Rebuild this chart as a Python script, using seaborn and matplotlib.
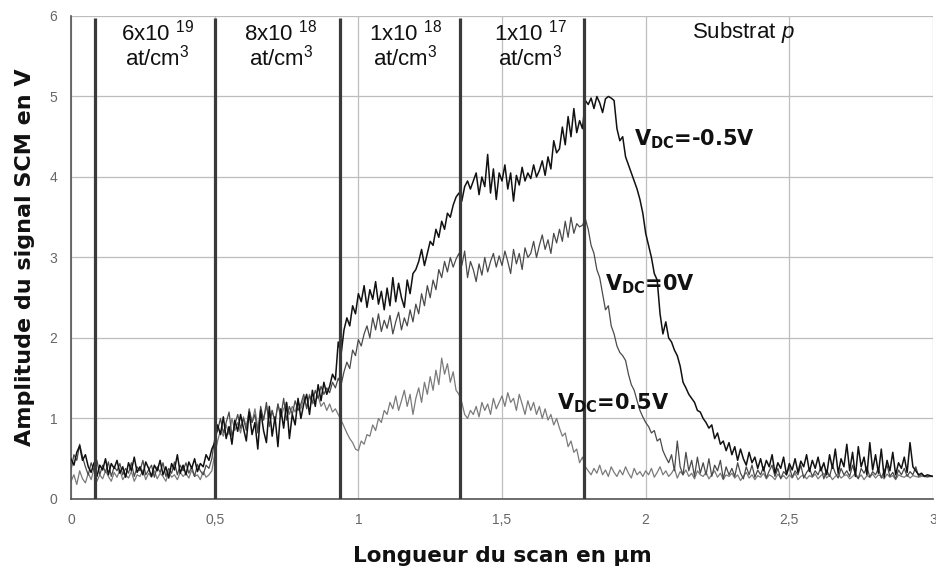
import numpy as np
import pandas as pd
import matplotlib
matplotlib.use("Agg")
import matplotlib.pyplot as plt
from matplotlib.ticker import FuncFormatter
import seaborn as sns

# ---------------- data ----------------
scan_step = 0.01
n_points = 301
x_um = np.round(np.arange(n_points) * scan_step, 2)

v_neg05 = [
    0.50, 0.42, 0.58, 0.66, 0.48, 0.55, 0.40, 0.33, 0.45, 0.28,
    0.42, 0.36, 0.50, 0.30, 0.44, 0.38, 0.48, 0.32, 0.40, 0.27,
    0.45, 0.35, 0.52, 0.33, 0.40, 0.30, 0.46, 0.38, 0.28, 0.42,
    0.35, 0.48, 0.30, 0.40, 0.26, 0.44, 0.36, 0.55, 0.32, 0.42,
    0.30, 0.46, 0.38, 0.50, 0.34, 0.44, 0.40, 0.55, 0.48, 0.62,
    0.70, 0.92, 0.80, 1.02, 0.75, 0.90, 0.68, 0.98, 0.84, 1.05,
    0.88, 0.72, 1.08, 0.80, 0.95, 0.62, 1.10, 0.85, 0.70, 1.15,
    0.78, 1.02, 0.65, 1.12, 0.88, 1.20, 0.75, 1.05, 0.92, 1.25,
    1.00, 1.18, 1.30, 1.05, 1.35, 1.15, 1.42, 1.22, 1.45, 1.30,
    1.40, 1.55, 1.48, 1.95, 1.80, 2.10, 2.25, 2.15, 2.40, 2.30,
    2.55, 2.45, 2.65, 2.38, 2.60, 2.48, 2.70, 2.42, 2.58, 2.35,
    2.62, 2.40, 2.75, 2.45, 2.68, 2.50, 2.38, 2.72, 2.55, 2.80,
    2.85, 2.95, 3.10, 2.90, 3.05, 3.20, 3.15, 3.35, 3.25, 3.45,
    3.35, 3.55, 3.50, 3.65, 3.75, 3.80, 3.70, 3.88, 3.95, 3.85,
    3.95, 4.05, 3.78, 4.00, 3.88, 4.28, 3.80, 4.10, 3.72, 4.05,
    3.95, 4.15, 3.85, 4.05, 3.70, 4.02, 3.90, 4.12, 3.95, 4.05,
    3.98, 4.15, 4.00, 4.08, 4.20, 4.02, 4.25, 4.10, 4.45, 4.30,
    4.35, 4.62, 4.40, 4.75, 4.50, 4.85, 4.55, 4.70, 4.60, 4.95,
    4.90, 4.98, 4.85, 5.00, 4.92, 4.80, 4.97, 5.00, 4.98, 4.95,
    4.60, 4.45, 4.50, 4.25, 4.15, 4.05, 3.95, 3.85, 3.72, 3.55,
    3.30, 3.15, 3.00, 2.80, 2.72, 2.30, 2.05, 2.20, 2.00, 1.95,
    1.85, 1.78, 1.65, 1.45, 1.38, 1.30, 1.25, 1.20, 1.10, 1.08,
    1.00, 0.95, 0.88, 0.92, 0.75, 0.82, 0.68, 0.72, 0.60, 0.70,
    0.55, 0.65, 0.48, 0.62, 0.50, 0.42, 0.58, 0.45, 0.52, 0.38,
    0.50, 0.35, 0.48, 0.40, 0.55, 0.32, 0.45, 0.38, 0.52, 0.30,
    0.44, 0.36, 0.50, 0.33, 0.47, 0.40, 0.55, 0.34, 0.48, 0.38,
    0.52, 0.35, 0.45, 0.30, 0.55, 0.38, 0.62, 0.32, 0.50, 0.40,
    0.68, 0.35, 0.58, 0.28, 0.65, 0.40, 0.52, 0.30, 0.70, 0.36,
    0.55, 0.32, 0.62, 0.27, 0.48, 0.35, 0.58, 0.30, 0.45, 0.38,
    0.52, 0.33, 0.70, 0.40, 0.35, 0.30, 0.32, 0.28, 0.30, 0.29,
    0.28,
]
v_0 = [
    0.36, 0.55, 0.48, 0.68, 0.52, 0.40, 0.30, 0.45, 0.35, 0.48,
    0.30, 0.42, 0.33, 0.46, 0.28, 0.40, 0.35, 0.44, 0.30, 0.38,
    0.32, 0.45, 0.28, 0.40, 0.35, 0.48, 0.30, 0.36, 0.42, 0.27,
    0.40, 0.33, 0.45, 0.28, 0.38, 0.32, 0.46, 0.30, 0.42, 0.35,
    0.45, 0.32, 0.40, 0.28, 0.43, 0.35, 0.30, 0.42, 0.38, 0.50,
    0.75, 0.85, 1.00, 0.82, 0.95, 1.08, 0.78, 0.92, 1.05, 0.88,
    1.00, 0.85, 1.12, 0.95, 1.05, 0.82, 1.15, 0.98, 1.20, 0.90,
    1.10, 0.95, 1.18, 1.02, 1.25, 0.98, 1.15, 1.05, 1.22, 1.10,
    1.18, 1.30, 1.12, 1.28, 1.20, 1.35, 1.25, 1.40, 1.30, 1.38,
    1.32, 1.45, 1.38, 1.50, 1.42, 1.58, 1.70, 1.62, 1.85, 1.78,
    1.98, 1.90, 2.05, 2.15, 2.00, 2.25, 2.10, 2.30, 2.08, 2.22,
    2.12, 2.28, 2.05, 2.20, 2.32, 2.10, 2.25, 2.15, 2.35, 2.20,
    2.42, 2.30, 2.55, 2.40, 2.65, 2.50, 2.72, 2.60, 2.85, 2.75,
    2.95, 2.82, 3.00, 2.88, 2.98, 3.05, 2.90, 3.08, 2.75, 2.95,
    2.85, 2.70, 2.92, 2.78, 3.00, 2.82, 2.95, 3.05, 2.88, 3.02,
    2.90, 3.08, 2.95, 2.80, 3.10, 2.92, 3.05, 2.85, 3.12, 3.00,
    3.05, 3.20, 3.00, 3.15, 3.28, 3.10, 3.22, 3.05, 3.30, 3.18,
    3.35, 3.20, 3.45, 3.25, 3.50, 3.30, 3.42, 3.38, 3.40, 3.48,
    3.35, 3.15, 3.05, 2.85, 2.75, 2.55, 2.35, 2.40, 2.15, 2.05,
    1.90, 1.82, 1.78, 1.72, 1.55, 1.42, 1.35, 1.22, 1.10, 1.02,
    0.95, 0.90, 0.82, 0.85, 0.72, 0.75, 0.60, 0.52, 0.45, 0.55,
    0.35, 0.72, 0.40, 0.30, 0.58, 0.35, 0.48, 0.28, 0.52, 0.32,
    0.45, 0.30, 0.50, 0.28, 0.42, 0.35, 0.48, 0.25, 0.40, 0.30,
    0.38, 0.28, 0.45, 0.32, 0.25, 0.40, 0.30, 0.42, 0.27, 0.36,
    0.30, 0.40, 0.26, 0.35, 0.42, 0.28, 0.38, 0.25, 0.34, 0.30,
    0.40, 0.27, 0.35, 0.30, 0.42, 0.26, 0.33, 0.38, 0.28, 0.35,
    0.30, 0.40, 0.25, 0.36, 0.28, 0.42, 0.32, 0.26, 0.38, 0.30,
    0.35, 0.28, 0.42, 0.30, 0.25, 0.38, 0.32, 0.40, 0.27, 0.34,
    0.30, 0.38, 0.26, 0.35, 0.42, 0.28, 0.33, 0.25, 0.36, 0.30,
    0.38, 0.28, 0.34, 0.30, 0.40, 0.28, 0.30, 0.29, 0.28, 0.28,
    0.28,
]
v_pos05 = [
    0.22, 0.30, 0.18, 0.35, 0.25, 0.20, 0.32, 0.24, 0.38, 0.22,
    0.30, 0.25, 0.35, 0.28, 0.22, 0.33, 0.27, 0.36, 0.24, 0.30,
    0.26, 0.34, 0.22, 0.30, 0.28, 0.36, 0.24, 0.32, 0.27, 0.35,
    0.25, 0.32, 0.28, 0.22, 0.34, 0.27, 0.30, 0.24, 0.33, 0.28,
    0.32, 0.26, 0.36, 0.28, 0.30, 0.24, 0.34, 0.27, 0.30, 0.35,
    0.55, 0.72, 0.85, 0.78, 0.92, 0.80, 1.00, 0.85, 0.95, 0.82,
    1.02, 0.90, 1.08, 0.95, 1.12, 0.88, 1.05, 0.98, 1.15, 1.00,
    1.10, 0.95, 1.18, 1.02, 1.12, 1.20, 1.05, 1.15, 1.08, 1.22,
    1.12, 1.25, 1.15, 1.30, 1.18, 1.22, 1.28, 1.15, 1.20, 1.10,
    1.18, 1.08, 1.12, 1.05, 0.98, 0.90, 0.82, 0.75, 0.70, 0.62,
    0.60, 0.72, 0.68, 0.80, 0.78, 0.92, 0.85, 1.00, 0.95, 1.10,
    1.05, 1.20, 1.12, 1.28, 1.10, 1.22, 1.35, 1.15, 1.30, 1.05,
    1.25, 1.38, 1.20, 1.45, 1.30, 1.52, 1.35, 1.60, 1.42, 1.75,
    1.55, 1.68, 1.45, 1.58, 1.35, 1.30, 1.20, 1.05, 1.00, 1.10,
    1.05, 1.15, 1.02, 1.20, 1.10, 1.18, 1.05, 1.25, 1.12, 1.20,
    1.28, 1.15, 1.32, 1.20, 1.25, 1.10, 1.30, 1.18, 1.05, 1.22,
    1.10, 1.20, 1.05, 1.15, 1.00, 1.12, 0.98, 1.05, 0.92, 1.00,
    0.88, 0.78, 0.82, 0.65, 0.72, 0.58, 0.62, 0.45, 0.52, 0.40,
    0.35, 0.30, 0.38, 0.32, 0.42, 0.30, 0.36, 0.28, 0.40, 0.33,
    0.28, 0.36, 0.30, 0.40, 0.32, 0.26, 0.38, 0.30, 0.34, 0.28,
    0.35, 0.30, 0.38, 0.27, 0.33, 0.40, 0.30, 0.35, 0.28, 0.32,
    0.38, 0.26, 0.34, 0.30, 0.36, 0.28, 0.32, 0.25, 0.35, 0.30,
    0.28, 0.33, 0.25, 0.30, 0.35, 0.27, 0.32, 0.24, 0.30, 0.28,
    0.32, 0.26, 0.30, 0.23, 0.28, 0.33, 0.26, 0.30, 0.24, 0.29,
    0.27, 0.32, 0.25, 0.30, 0.28, 0.24, 0.31, 0.26, 0.29, 0.25,
    0.30, 0.26, 0.32, 0.24, 0.28, 0.30, 0.25, 0.29, 0.27, 0.31,
    0.25, 0.29, 0.32, 0.26, 0.30, 0.24, 0.28, 0.31, 0.26, 0.29,
    0.30, 0.25, 0.28, 0.32, 0.26, 0.30, 0.24, 0.29, 0.27, 0.31,
    0.26, 0.30, 0.28, 0.25, 0.31, 0.27, 0.29, 0.24, 0.30, 0.28,
    0.27, 0.30, 0.26, 0.29, 0.28, 0.27, 0.28, 0.28, 0.27, 0.28,
    0.28,
]
assert len(v_neg05) == len(v_0) == len(v_pos05) == n_points

boundaries = [0.083, 0.502, 0.935, 1.355, 1.787]
region_mantissa = ["6x10", "8x10", "1x10", "1x10"]
region_exponent = ["19", "18", "18", "17"]
region_centers = [0.30, 0.73, 1.165, 1.60]
substrate_label = "Substrat"
curve_labels = ["-0.5V", "0V", "0.5V"]

x_ticks = [0, 0.5, 1, 1.5, 2, 2.5, 3]
y_ticks = [0, 1, 2, 3, 4, 5, 6]

# ---------------- style ----------------
sns.set_theme(style="white")
plt.rcParams["font.family"] = ["Liberation Sans", "DejaVu Sans"]
plt.rcParams["mathtext.fontset"] = "custom"
plt.rcParams["mathtext.rm"] = "Liberation Sans"
plt.rcParams["mathtext.it"] = "Liberation Sans:italic"
plt.rcParams["mathtext.bf"] = "DejaVu Sans:bold"

fig = plt.figure(figsize=(9.36, 5.74), dpi=100)
ax = fig.add_axes([0.0759, 0.1307, 0.9209, 0.8415])

df = pd.DataFrame({
    "x": np.concatenate([x_um, x_um, x_um]),
    "y": np.concatenate([v_neg05, v_0, v_pos05]),
    "curve": (["-0.5V"] * n_points) + (["0V"] * n_points) + (["0.5V"] * n_points),
})
palette = {"-0.5V": "#111111", "0V": "#4a4a4a", "0.5V": "#7a7a7a"}
widths = {"-0.5V": 1.1, "0V": 0.9, "0.5V": 0.9}
for name in ["0.5V", "0V", "-0.5V"]:
    sub = df[df["curve"] == name]
    sns.lineplot(data=sub, x="x", y="y", color=palette[name], lw=widths[name],
                 ax=ax, legend=False, zorder=3 if name == "-0.5V" else 2)

for b in boundaries:
    ax.plot([b, b], [0, 5.97], color="#3a3a3a", lw=2.3, zorder=4, solid_capstyle="butt")

ax.set_xlim(0, 3)
ax.set_ylim(0, 6)
ax.set_xticks(x_ticks)
ax.set_yticks(y_ticks)
ax.xaxis.set_major_formatter(FuncFormatter(lambda v, p: (("%g" % v).replace(".", ","))))
ax.grid(True, color="#bdbdbd", lw=0.9, zorder=0)
ax.set_axisbelow(True)
for s in ["top", "right"]:
    ax.spines[s].set_visible(False)
for s in ["left", "bottom"]:
    ax.spines[s].set_color("#555555")
    ax.spines[s].set_linewidth(1.2)
ax.tick_params(axis="both", which="major", direction="out", length=4, width=1,
               color="#555555", labelsize=10, labelcolor="#666666", pad=6)

ax.set_xlabel("Longueur du scan en µm", fontsize=15.5, fontweight="bold",
              family="DejaVu Sans", color="#111111", labelpad=14)
ax.set_ylabel("Amplitude du signal SCM en V", fontsize=16, fontweight="bold",
              family="DejaVu Sans", color="#111111", labelpad=10)

for cx, m, e in zip(region_centers, region_mantissa, region_exponent):
    ax.text(cx, 5.80, m + r" $^{" + e + r"}$", ha="center", va="center", fontsize=16, color="#111111")
    ax.text(cx, 5.48, r"at/cm$^{3}$", ha="center", va="center", fontsize=16, color="#111111")
ax.text(2.34, 5.80, substrate_label + r" $\it{p}$", ha="center", va="center", fontsize=16, color="#111111")

label_pos = [(1.96, 4.47), (1.86, 2.66), (1.69, 1.19)]
for (lx, ly), lab in zip(label_pos, curve_labels):
    ax.text(lx, ly, r"V$_{\mathbf{DC}}$=" + lab, ha="left", va="center", fontsize=15,
            fontweight="bold", family="DejaVu Sans", color="#111111", zorder=5)

fig.savefig("out.png", dpi=100)
